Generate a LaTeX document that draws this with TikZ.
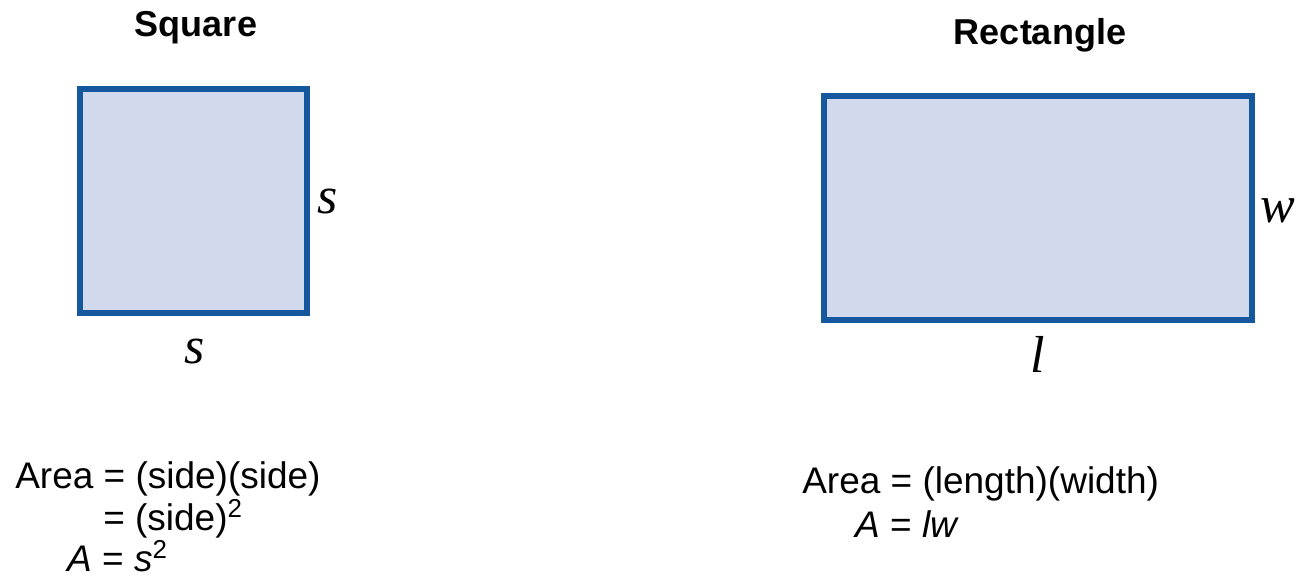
\documentclass[tikz,border=0pt]{standalone}
\usepackage{fontspec}
\setmainfont{Liberation Sans}
\newfontfamily\lblfont{Liberation Serif}
\usepackage{xcolor}
\definecolor{edgeblue}{RGB}{22,88,158}
\definecolor{fillblue}{RGB}{208,218,236}
\usepackage{tikz}

\tikzset{
    shapebox/.style={draw=edgeblue,fill=fillblue,inner sep=0pt,outer sep=0pt},
    title/.style={anchor=base,font=\fontsize{27pt}{32pt}\selectfont\bfseries},
    sidelbl/.style={font=\fontsize{39pt}{44pt}\lblfont\itshape,inner sep=0pt},
    formula/.style={anchor=base west,inner sep=0pt,font=\fontsize{27.75pt}{33pt}\selectfont}
}

\begin{document}
\begin{tikzpicture}[x=0.75pt,y=-0.75pt]
    \useasboundingbox (0,0) rectangle (1297,581);

    \node[title] (sqtitle) at (196,37) {Square};
    \node[shapebox,line width=4.5pt,minimum width=170.25pt,minimum height=168pt] (sq) at (193.5,201) {};
    \node[sidelbl] (sqright) at (328,202) {s};
    \node[sidelbl] (sqbottom) at (195,352) {s};

    \node[title] (rectitle) at (1040,45) {Rectangle};
    \node[shapebox,line width=4.1pt,minimum width=321pt,minimum height=168pt] (rec) at (1038,208) {};
    \node[sidelbl] (recright) at (1278,211) {w};
    \node[sidelbl] (recbottom) at (1038,354) {l};

    \node[formula] (sqarea) at (15,488) {Area = (side)(side)};
    \node[formula] (sqside) at (103,530) {= (side)\textsuperscript{2}};
    \node[formula] (sqA) at (67,571) {\textit{A} = \textit{s}\textsuperscript{2}};

    \node[formula] (recarea) at (802,493) {Area = (length)(width)};
    \node[formula] (recA) at (855,537) {\textit{A} = \textit{lw}};
\end{tikzpicture}
\end{document}
